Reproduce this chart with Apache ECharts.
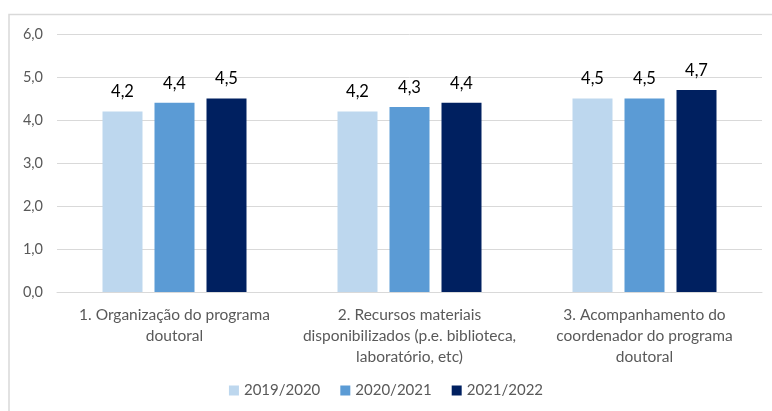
<!DOCTYPE html>
<html>
<head>
<meta charset="utf-8">
<script src="https://cdn.jsdelivr.net/npm/echarts@6/dist/echarts.min.js"></script>
<style>
  html, body { margin: 0; padding: 0; background: #fff; }
  #chart { width: 772px; height: 411px; }
</style>
</head>
<body>
<div id="chart"></div>
<script>
const categories = [
  "1. Organização do programa\ndoutoral",
  "2. Recursos materiais\ndisponibilizados (p.e. biblioteca,\nlaboratório, etc)",
  "3. Acompanhamento do\ncoordenador do programa\ndoutoral"
];
const years = ["2019/2020", "2020/2021", "2021/2022"];
const values2019 = [4.2, 4.2, 4.5];
const values2020 = [4.4, 4.3, 4.5];
const values2021 = [4.5, 4.4, 4.7];
const colors = ["#BDD7EE", "#5B9BD5", "#002060"];

const fontFamily = "Lato, 'Open Sans', sans-serif";
const chart = echarts.init(document.getElementById("chart"));

const makeSeries = (name, data, color) => ({
  name: name,
  type: "bar",
  data: data,
  barWidth: 40,
  barGap: "30%",
  itemStyle: { color: color },
  label: {
    show: true,
    position: "top",
    distance: 11,
    color: "#000",
    fontSize: 16.5,
    fontFamily: fontFamily,
    formatter: (p) => p.value.toFixed(1).replace(".", ",")
  }
});

chart.setOption({
  backgroundColor: "#fff",
  animation: false,
  graphic: [
    {
      type: "polyline",
      shape: { points: [[9, 411], [9, 14.5], [772, 14.5]] },
      style: { stroke: "#d9d9d9", lineWidth: 1.5, fill: null }
    }
  ],
  grid: { left: 57, right: 10, top: 34, bottom: 119, containLabel: false },
  legend: {
    data: years,
    bottom: 8,
    left: "center",
    itemWidth: 10,
    itemHeight: 10,
    itemGap: 20,
    icon: "rect",
    textStyle: { color: "#595959", fontSize: 15, fontFamily: fontFamily }
  },
  xAxis: {
    type: "category",
    data: categories,
    axisLine: { lineStyle: { color: "#d9d9d9", width: 1 } },
    axisTick: { show: false },
    axisLabel: {
      color: "#595959",
      fontSize: 15.5,
      fontFamily: fontFamily,
      lineHeight: 21,
      margin: 12,
      interval: 0
    }
  },
  yAxis: {
    type: "value",
    min: 0,
    max: 6,
    interval: 1,
    axisLine: { show: false },
    axisTick: { show: false },
    axisLabel: {
      color: "#595959",
      fontSize: 14.5,
      fontFamily: fontFamily,
      margin: 14,
      formatter: (v) => v.toFixed(1).replace(".", ",")
    },
    splitLine: { lineStyle: { color: "#d9d9d9", width: 1 } }
  },
  series: [
    makeSeries(years[0], values2019, colors[0]),
    makeSeries(years[1], values2020, colors[1]),
    makeSeries(years[2], values2021, colors[2])
  ]
});
</script>
</body>
</html>
